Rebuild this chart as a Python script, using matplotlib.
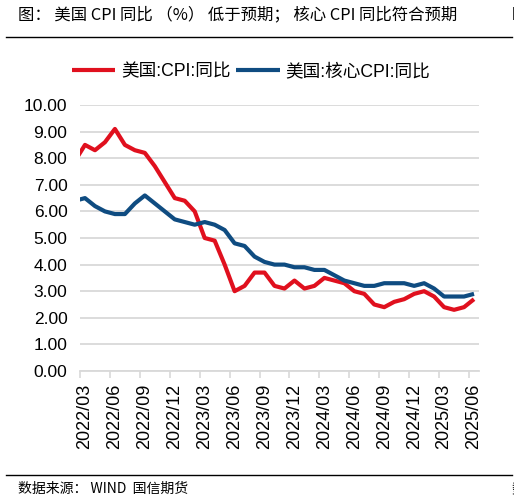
import matplotlib
matplotlib.use("Agg")
import matplotlib.pyplot as plt
from matplotlib.patches import Rectangle
import numpy as np

# monthly YoY, 2022/02 .. 2025/06 (first point sits just left of the axis and gets clipped)
cpi = [7.9, 8.5, 8.3, 8.6, 9.1, 8.5, 8.3, 8.2, 7.7, 7.1, 6.5,
       6.4, 6.0, 5.0, 4.9, 4.0, 3.0, 3.2, 3.7, 3.7, 3.2, 3.1, 3.4,
       3.1, 3.2, 3.5, 3.4, 3.3, 3.0, 2.9, 2.5, 2.4, 2.6, 2.7, 2.9,
       3.0, 2.8, 2.4, 2.3, 2.4, 2.7]
core_cpi = [6.4, 6.5, 6.2, 6.0, 5.9, 5.9, 6.3, 6.6, 6.3, 6.0, 5.7,
            5.6, 5.5, 5.6, 5.5, 5.3, 4.8, 4.7, 4.3, 4.1, 4.0, 4.0, 3.9,
            3.9, 3.8, 3.8, 3.6, 3.4, 3.3, 3.2, 3.2, 3.3, 3.3, 3.3, 3.2,
            3.3, 3.1, 2.8, 2.8, 2.8, 2.9]
tick_labels = ["2022/03", "2022/06", "2022/09", "2022/12", "2023/03", "2023/06",
               "2023/09", "2023/12", "2024/03", "2024/06", "2024/09", "2024/12",
               "2025/03", "2025/06"]
y_ticks = [0, 1, 2, 3, 4, 5, 6, 7, 8, 9, 10]

series_names = ["美国:CPI:同比", "美国:核心CPI:同比"]
title = "图： 美国 CPI 同比 （%） 低于预期； 核心 CPI 同比符合预期"
source = "数据来源： WIND  国信期货"

RED = "#E0101E"
BLUE = "#0F4C81"
GRID = "#D9D9D9"
LATIN_CJK = ["Liberation Sans", "Noto Sans CJK SC"]
CJK = ["Noto Sans CJK SC", "DejaVu Sans"]

W, H = 518, 503
fig = plt.figure(figsize=(W / 100, H / 100), dpi=100)
ax = fig.add_axes([80 / W, 1 - 371 / H, (479 - 80) / W, (371 - 105) / H])

x = np.arange(len(cpi)) - 1  # index 0 == 2022/03
ax.plot(x, cpi, color=RED, lw=3, label=series_names[0], solid_capstyle="butt")
ax.plot(x, core_cpi, color=BLUE, lw=3, label=series_names[1], solid_capstyle="butt")

ax.set_xlim(-0.5, 39.5)
ax.set_ylim(0, 10)
ax.set_yticks(y_ticks)
ax.set_yticklabels([f"{v:.2f}" for v in y_ticks], fontfamily=LATIN_CJK, fontsize=12.5)
ax.tick_params(axis="y", length=0, pad=9)

label_pos = np.arange(len(tick_labels)) * 3
ax.set_xticks(label_pos)
ax.set_xticklabels(tick_labels, rotation=90, fontfamily=LATIN_CJK, fontsize=13)
ax.set_xticks(label_pos - 0.5, minor=True)
ax.tick_params(axis="x", which="major", length=0, pad=9)
ax.tick_params(axis="x", which="minor", length=5, width=1.2, color=GRID)

ax.yaxis.grid(True, color=GRID, lw=1.3)
ax.set_axisbelow(True)
for s in ["top", "right", "left"]:
    ax.spines[s].set_visible(False)
ax.spines["bottom"].set_color(GRID)
ax.spines["bottom"].set_linewidth(1.3)

fig.legend(loc="center", bbox_to_anchor=(251 / W, 1 - 72 / H), ncol=2, frameon=False,
           prop={"family": LATIN_CJK, "size": 12.7}, handlelength=2.45,
           handletextpad=0.3, columnspacing=0.35, borderaxespad=0, borderpad=0)

# header / footer
fig.text(18 / W, 1 - 15 / H, title, fontfamily=CJK, fontsize=11.8, va="center", ha="left")
fig.text(512 / W, 1 - 15 / H, "图", fontfamily=CJK, fontsize=10.5, va="center", ha="left")
fig.add_artist(plt.Line2D([6 / W, 512 / W], [1 - 37 / H, 1 - 37 / H], color="black", lw=1))
fig.add_artist(plt.Line2D([6 / W, 512 / W], [1 - 475 / H, 1 - 475 / H], color="black", lw=1))
fig.text(18 / W, 1 - 489 / H, source, fontfamily=CJK, fontsize=10, va="center", ha="left")
fig.text(511 / W, 1 - 489 / H, "数", fontfamily=CJK, fontsize=10, va="center", ha="left")
# the right-hand sliver of the page is blank in the source screenshot
fig.add_artist(Rectangle((514 / W, 0), 4 / W, 1, transform=fig.transFigure,
                         facecolor="white", edgecolor="none", zorder=10))

fig.savefig("out.png", dpi=100)
